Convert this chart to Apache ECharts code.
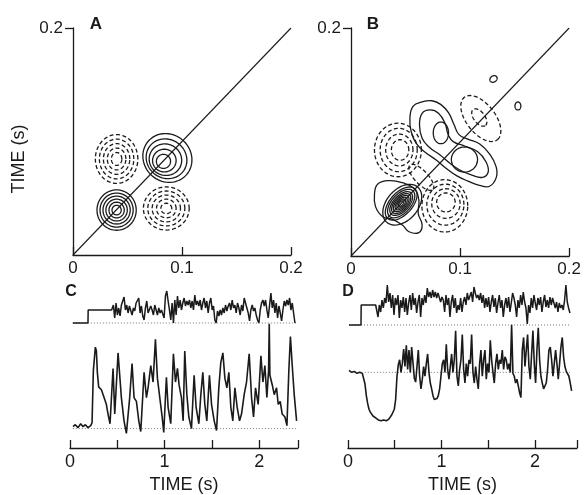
<!DOCTYPE html>
<html>
<head>
<meta charset="utf-8">
<script src="https://cdn.jsdelivr.net/npm/echarts@6/dist/echarts.min.js"></script>
<style>
  html, body { margin: 0; padding: 0; background: #fff; }
  #chart { width: 584px; height: 495px; }
</style>
</head>
<body>
<div id="chart"></div>
<script>
// contour rings: [cx, cy, a, b, angleDeg, dashed]  (data units, seconds)
const ringsA = [
  // lower-left, solid
  [0.040, 0.0396, 0.0180, 0.0178, 0, 0],
  [0.040, 0.0396, 0.0152, 0.0150, 0, 0],
  [0.040, 0.0396, 0.0125, 0.0123, 0, 0],
  [0.040, 0.0396, 0.0098, 0.0096, 0, 0],
  [0.040, 0.0396, 0.0070, 0.0069, 0, 0],
  [0.040, 0.0396, 0.0042, 0.0042, 0, 0],
  // lower-right, dashed
  [0.0856, 0.041, 0.0210, 0.0190, 0, 1],
  [0.0856, 0.041, 0.0170, 0.0154, 0, 1],
  [0.0856, 0.041, 0.0130, 0.0118, 0, 1],
  [0.0856, 0.041, 0.0090, 0.0082, 0, 1],
  [0.0856, 0.041, 0.0050, 0.0046, 0, 1],
  // upper-left, dashed
  [0.040, 0.0846, 0.0195, 0.0215, 0, 1],
  [0.040, 0.0846, 0.0158, 0.0175, 0, 1],
  [0.040, 0.0846, 0.0121, 0.0135, 0, 1],
  [0.040, 0.0846, 0.0085, 0.0096, 0, 1],
  [0.040, 0.0846, 0.0048, 0.0057, 0, 1],
  // upper-right, solid
  [0.0866, 0.0855, 0.0230, 0.0210, -30, 0],
  [0.0858, 0.0848, 0.0190, 0.0172, -25, 0],
  [0.0848, 0.0840, 0.0150, 0.0138, -15, 0],
  [0.0838, 0.0832, 0.0108, 0.0100, 0, 0],
  [0.0830, 0.0825, 0.0065, 0.0062, 0, 0]
];
const ringsB = [
  // lower-left dense, solid
  [0.047, 0.045, 0.0210, 0.0140, 45, 0],
  [0.046, 0.046, 0.0180, 0.0100, 45, 0],
  [0.046, 0.046, 0.0155, 0.0085, 45, 0],
  [0.046, 0.046, 0.0130, 0.0070, 45, 0],
  [0.046, 0.046, 0.0110, 0.0058, 45, 0],
  [0.046, 0.046, 0.0090, 0.0047, 45, 0],
  [0.046, 0.046, 0.0070, 0.0036, 45, 0],
  [0.046, 0.046, 0.0050, 0.0026, 45, 0],
  [0.046, 0.046, 0.0030, 0.0016, 45, 0],
  // lower-right, dashed
  [0.0860, 0.044, 0.0210, 0.0230, 0, 1],
  [0.0865, 0.045, 0.0170, 0.0180, 0, 1],
  [0.0870, 0.046, 0.0130, 0.0130, 0, 1],
  [0.0870, 0.047, 0.0085, 0.0083, 0, 1],
  // upper-left, dashed
  [0.0430, 0.093, 0.0215, 0.0235, 0, 1],
  [0.0437, 0.093, 0.0170, 0.0190, 0, 1],
  [0.0443, 0.093, 0.0125, 0.0140, 0, 1],
  [0.0450, 0.093, 0.0080, 0.0090, 0, 1],
  // neck between the two dashed lobes
  [0.0645, 0.0690, 0.0150, 0.0060, -45, 1],
  // inner rings of the pair across the diagonal, solid
  [0.0824, 0.108, 0.0070, 0.0095, 0, 0],
  [0.104, 0.0846, 0.0120, 0.0110, 0, 0],
  // upper-right, dashed
  [0.119, 0.1206, 0.0240, 0.0130, -50, 1],
  [0.1176, 0.1215, 0.0090, 0.0050, -50, 1],
  // small islands
  [0.1306, 0.1553, 0.0035, 0.0027, 30, 0],
  [0.153, 0.1316, 0.0027, 0.0035, 0, 0]
];
// irregular closed contours in panel B, points [x, y]
const pairOuter = [[0.0570,0.1315],[0.0652,0.1352],[0.0742,0.1362],[0.0822,0.1330],[0.0895,0.1255],[0.0946,0.1149],[0.0990,0.1065],[0.1072,0.1025],[0.1180,0.0982],[0.1275,0.0890],[0.1330,0.0784],[0.1332,0.0690],[0.1270,0.0612],[0.1177,0.0620],[0.1072,0.0657],[0.0967,0.0705],[0.0877,0.0765],[0.0787,0.0838],[0.0680,0.0910],[0.0600,0.0985],[0.0552,0.1090],[0.0540,0.1210]];
const pairInner = [[0.0652,0.1252],[0.0727,0.1281],[0.0802,0.1252],[0.0862,0.1164],[0.0892,0.1061],[0.0937,0.1003],[0.1042,0.0965],[0.1162,0.0915],[0.1237,0.0827],[0.1258,0.0739],[0.1207,0.069],[0.1102,0.0711],[0.0997,0.0754],[0.0907,0.0813],[0.0817,0.0886],[0.0712,0.0959],[0.0652,0.1032],[0.0628,0.1149]];
const denseOuter = [[0.0246,0.0632],[0.0351,0.0661],[0.0471,0.0643],[0.0577,0.0593],[0.0622,0.0491],[0.0616,0.0374],[0.0652,0.0272],[0.0622,0.0205],[0.0532,0.0213],[0.0471,0.0272],[0.0381,0.0322],[0.0291,0.0345],[0.0225,0.0433],[0.0216,0.055]];
const pathsB = [pairOuter, pairInner, denseOuter];
const diagonal = [[0, 0], [0.2, 0.2]];

// panel C (time in s, amplitude in arbitrary units)
const cTopStep = [[0.03, 0], [0.19, 0], [0.192, 13], [0.44, 13]];
const cTopT0 = 0.4586, cTopDt = 0.01411;
const cTopNoise = [18,5,20,8,15,7,18,18,26,13,18,10,17,17,8,15,12,20,20,25,10,17,7,3,15,22,10,10,17,13,8,18,18,8,15,10,13,13,5,27,32,22,13,3,20,0,23,8,27,15,23,13,20,25,17,22,18,23,15,22,13,28,18,22,17,23,13,20,25,15,22,10,20,25,13,17,3,0,12,7,13,8,15,10,18,12,17,20,13,23,15,18,10,20,15,8,18,12,25,25,15,10,2,13,18,12,15,8,3,0,13,20,23,17,23,13,5,18,30,15,23,10,20,5,17,10,2,13,22,17,23,18,25,13,20,10,0];
const cLow = [[0.032,2],[0.056,4],[0.085,1],[0.113,5],[0.138,2],[0.162,4],[0.19,1],[0.219,3],[0.233,6],[0.247,60],[0.268,84],[0.279,80],[0.289,58],[0.303,43],[0.332,40],[0.36,32],[0.384,25],[0.402,15],[0.423,5],[0.455,62],[0.473,15],[0.508,78],[0.543,32],[0.571,8],[0.596,-5],[0.631,32],[0.656,67],[0.677,32],[0.702,28],[0.727,8],[0.748,-3],[0.783,58],[0.808,32],[0.825,42],[0.854,65],[0.878,48],[0.903,92],[0.924,52],[0.949,32],[0.974,12],[0.991,-4],[1.019,53],[1.037,22],[1.065,5],[1.093,77],[1.115,48],[1.136,62],[1.153,45],[1.178,32],[1.196,8],[1.213,80],[1.235,35],[1.256,12],[1.284,0],[1.312,55],[1.333,22],[1.362,5],[1.383,35],[1.404,58],[1.425,25],[1.446,8],[1.474,55],[1.496,25],[1.524,8],[1.549,-2],[1.573,42],[1.594,68],[1.616,78],[1.637,52],[1.658,42],[1.679,58],[1.7,22],[1.721,8],[1.743,42],[1.767,22],[1.792,8],[1.813,15],[1.841,35],[1.866,48],[1.894,77],[1.919,32],[1.94,12],[1.961,42],[1.989,25],[2.018,75],[2.039,48],[2.06,65],[2.081,32],[2.099,60],[2.106,108],[2.113,55],[2.138,45],[2.159,35],[2.183,42],[2.201,25],[2.222,28],[2.243,15],[2.272,12],[2.293,3],[2.314,62],[2.33,95],[2.349,65],[2.37,35],[2.395,8]];

// panel D
const dTopStep = [[0.011, 0], [0.139, 0], [0.141, 20], [0.296, 20]];
const dTopT0 = 0.3066, dTopDt = 0.01426;
const dTopNoise = [15,8,20,13,25,17,27,22,40,23,32,17,30,10,27,20,30,7,25,17,28,13,27,10,22,30,15,32,20,27,12,23,30,8,27,20,30,22,37,28,33,27,35,28,33,27,32,30,23,28,25,13,30,20,27,8,23,30,17,27,12,20,15,27,13,23,28,20,32,25,27,33,23,38,32,27,30,25,32,22,30,17,27,18,28,13,23,30,18,27,12,22,30,17,25,8,20,27,17,28,13,22,32,27,20,8,25,17,30,20,33,23,17,1,20,12,27,17,30,22,15,27,20,28,13,23,30,18,25,17,28,20,27,22,17,23,13,22,17,20,15,25,40,23,17,12];
const dLowT0 = 0.0107, dLowDt = 0.01426;
const dLow = [2,0,0,1,1,0,-1,0,0,-1,-1,-3,-12,-24,-32,-38,-41,-43,-45,-46,-47,-48,-49,-49,-50,-49,-49,-50,-50,-49,-48,-46,-44,-42,-38,-28,-4,8,13,0,9,24,6,28,3,23,0,26,10,-6,-10,6,23,-4,-17,-7,6,-4,9,19,0,-11,-17,-24,-28,-29,-27,-24,-17,-4,9,13,0,29,3,-7,6,19,0,13,43,-4,-14,3,13,39,3,-11,9,-4,13,9,39,0,-11,6,-7,-17,9,23,-4,13,23,-7,9,0,33,13,0,-11,9,19,3,13,9,23,3,16,13,3,9,0,49,-1,-4,-11,-7,-14,-21,-26,23,36,6,23,39,6,-7,19,43,9,-11,23,46,13,-4,-11,-17,-19,-11,3,23,26,13,-4,9,23,9,-7,9,26,36,16,6,1,1,-4,-11,-19];

const cBase = [[0.03, 0], [2.4, 0]];
const cLowBase = [[0.03, 0], [2.4, 0]];
const dBase = [[0.011, 0], [2.38, 0]];
const dLowBase = [[0.18, 0], [2.39, 0]];

const timeTicks = [0, 0.5, 1, 1.5, 2];
const timeLabels = [0, 1, 2];

const INK = '#1a1a1a';
const FONT = 'Liberation Sans';

const sampled = (t0, dt, vals) => vals.map((v, i) => [+(t0 + i * dt).toFixed(4), v]);

function renderRing(params, api) {
  const cx = api.value(0), cy = api.value(1);
  const a = api.value(2), b = api.value(3);
  const ang = api.value(4) * Math.PI / 180;
  const dashed = api.value(5);
  const pts = [];
  for (let k = 0; k < 72; k++) {
    const t = k / 72 * Math.PI * 2;
    const u = a * Math.cos(t), w = b * Math.sin(t);
    pts.push(api.coord([cx + u * Math.cos(ang) - w * Math.sin(ang),
                        cy + u * Math.sin(ang) + w * Math.cos(ang)]));
  }
  return {
    type: 'polygon',
    shape: { points: pts },
    style: { fill: 'none', stroke: INK, lineWidth: 1.3, lineDash: dashed ? [4, 2.5] : null }
  };
}

function renderPath(params, api) {
  const pts = pathsB[api.value(0)].map(p => api.coord(p));
  return {
    type: 'polygon',
    shape: { points: pts, smooth: 0.45 },
    style: { fill: 'none', stroke: INK, lineWidth: 1.3 }
  };
}

const squareX = (idx) => ({
  gridIndex: idx, type: 'value', min: 0, max: 0.2, interval: 0.1,
  axisLine: { onZero: false, lineStyle: { color: INK, width: 1.3 } },
  axisTick: { inside: true, length: 8, lineStyle: { color: INK, width: 1.3 } },
  axisLabel: { color: INK, fontSize: 17, fontFamily: FONT, margin: 5 },
  splitLine: { show: false }
});
const squareY = (idx) => ({
  gridIndex: idx, type: 'value', min: 0, max: 0.2, interval: 0.1,
  axisLine: { onZero: false, lineStyle: { color: INK, width: 1.3 } },
  axisTick: { inside: false, length: 8, customValues: [0.1, 0.2], lineStyle: { color: INK, width: 1.3 } },
  axisLabel: { color: INK, fontSize: 17, fontFamily: FONT, margin: 10, showMinLabel: false,
               customValues: [0.1, 0.2] },
  splitLine: { show: false }
});
const hiddenX = (idx, max) => ({ gridIndex: idx, type: 'value', min: 0, max: max, show: false });
const hiddenY = (idx, min, max) => ({ gridIndex: idx, type: 'value', min: min, max: max, show: false });
const timeX = (idx, max) => ({
  gridIndex: idx, type: 'value', min: 0, max: max, interval: 0.5,
  axisLine: { onZero: false, lineStyle: { color: INK, width: 1.3 } },
  axisTick: { inside: true, length: 8, customValues: timeTicks.concat([max]),
              lineStyle: { color: INK, width: 1.3 } },
  axisLabel: { color: INK, fontSize: 18, fontFamily: FONT, margin: 5, customValues: timeLabels,
               formatter: v => (Number.isInteger(v) ? String(v) : '') },
  splitLine: { show: false },
  name: 'TIME (s)', nameLocation: 'middle', nameGap: 28,
  nameTextStyle: { color: INK, fontSize: 18, fontFamily: FONT }
});

const trace = (xi, data, w) => ({
  type: 'line', xAxisIndex: xi, yAxisIndex: xi, data: data,
  showSymbol: false, symbol: 'none', lineStyle: { color: INK, width: w }
});
const dotted = (xi, data) => ({
  type: 'line', xAxisIndex: xi, yAxisIndex: xi, data: data, symbol: 'none', z: 1,
  lineStyle: { color: '#777', width: 1, type: [1, 2] }
});
const rings = (xi, data) => ({
  type: 'custom', xAxisIndex: xi, yAxisIndex: xi, data: data,
  encode: { x: 0, y: 1 }, renderItem: renderRing, clip: false
});

const myChart = echarts.init(document.getElementById('chart'), null, { renderer: 'canvas' });
myChart.setOption({
  animation: false,
  backgroundColor: '#fff',
  grid: [
    { left: 73, top: 28, width: 218, height: 227 },
    { left: 351, top: 28, width: 222, height: 228 },
    { left: 70, top: 290, width: 228, height: 35 },
    { left: 70, top: 318, width: 228, height: 134 },
    { left: 348, top: 283, width: 229, height: 44 },
    { left: 348, top: 320, width: 229, height: 132 }
  ],
  xAxis: [squareX(0), squareX(1), hiddenX(2, 2.41), timeX(3, 2.41), hiddenX(4, 2.45), timeX(5, 2.45)],
  yAxis: [squareY(0), squareY(1), hiddenY(2, -2, 33), hiddenY(3, -20, 114), hiddenY(4, -2, 42), hiddenY(5, -78, 54)],
  graphic: [
    { type: 'text', x: 96, y: 24, style: { text: 'A', fill: INK, font: 'bold 17px ' + FONT, align: 'center', verticalAlign: 'middle' } },
    { type: 'text', x: 373, y: 24, style: { text: 'B', fill: INK, font: 'bold 17px ' + FONT, align: 'center', verticalAlign: 'middle' } },
    { type: 'text', x: 71, y: 292, style: { text: 'C', fill: INK, font: 'bold 16px ' + FONT, align: 'center', verticalAlign: 'middle' } },
    { type: 'text', x: 348, y: 292, style: { text: 'D', fill: INK, font: 'bold 16px ' + FONT, align: 'center', verticalAlign: 'middle' } },
    { type: 'text', x: 19, y: 159, rotation: Math.PI / 2,
      style: { text: 'TIME (s)', fill: INK, font: '18px ' + FONT, align: 'center', verticalAlign: 'middle' } }
  ],
  series: [
    trace(0, diagonal, 1.1),
    rings(0, ringsA),
    trace(1, diagonal, 1.1),
    rings(1, ringsB),
    { type: 'custom', xAxisIndex: 1, yAxisIndex: 1, data: pathsB.map((p, i) => [i]),
      renderItem: renderPath, clip: false },
    dotted(2, cBase),
    trace(2, cTopStep.concat(sampled(cTopT0, cTopDt, cTopNoise)), 1.5),
    dotted(3, cLowBase),
    trace(3, cLow, 1.6),
    dotted(4, dBase),
    trace(4, dTopStep.concat(sampled(dTopT0, dTopDt, dTopNoise)), 1.5),
    dotted(5, dLowBase),
    trace(5, sampled(dLowT0, dLowDt, dLow), 1.6)
  ]
});
</script>
</body>
</html>
